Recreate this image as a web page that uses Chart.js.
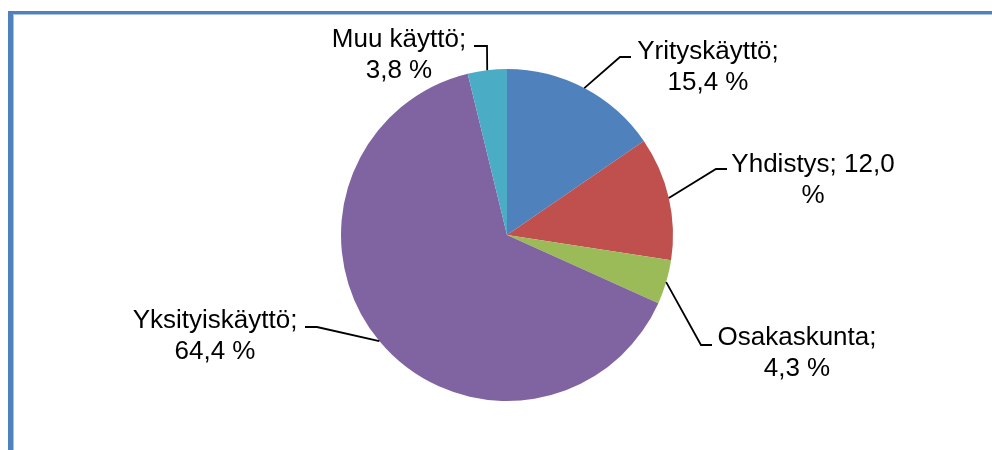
<!DOCTYPE html>
<html>
<head>
<meta charset="utf-8">
<script src="https://cdn.jsdelivr.net/npm/chart.js@4"></script>
<style>
  html, body { margin: 0; padding: 0; background: #fff; }
  .chart-parent { position: relative; width: 992px; height: 450px; overflow: hidden; }
  .frame {
    position: absolute; left: 8px; top: 11px; right: -20px; bottom: -20px;
    border-left: 5px solid #4F81BD; border-top: 3px solid #4F81BD;
  }
  .frame-inner {
    position: absolute; left: 0; top: 0; right: 0; bottom: 0;
    border-left: 1px solid #A9C1E1; border-top: 1px solid #A9C1E1;
  }
  canvas { position: absolute; left: 0; top: 0; }
</style>
</head>
<body>
<div class="chart-parent">
  <div class="frame"><div class="frame-inner"></div></div>
  <canvas id="myChart" width="992" height="450"></canvas>
</div>
<script>
const categories = ['Yrityskäyttö', 'Yhdistys', 'Osakaskunta', 'Yksityiskäyttö', 'Muu käyttö'];
const shares = [15.4, 12.0, 4.3, 64.4, 3.8];
const sliceColors = ['#4F81BD', '#C0504D', '#9BBB59', '#8064A2', '#4BACC6'];

// where each label sits (elbow of the leader, end of leader, text centre, first baseline)
const labelLayout = [
  { elbow: [620, 57], end: [631, 57], cx: 708, base: 59 },
  { elbow: [716, 169], end: [727, 169], cx: 813, base: 172 },
  { elbow: [701, 345], end: [712, 345], cx: 797, base: 345 },
  { elbow: [317, 327], end: [305, 327], cx: 215, base: 328 },
  { elbow: [487, 46], end: [474, 46], cx: 399, base: 47 },
];

const FONT = '26px "Liberation Sans", Arial, sans-serif';
const LINE = 30.5;
const WRAP = 170;

function wrapText(ctx, text) {
  const words = text.split(' ');
  const lines = [];
  let cur = '';
  words.forEach(w => {
    const test = cur ? cur + ' ' + w : w;
    if (cur && ctx.measureText(test).width > WRAP) {
      lines.push(cur);
      cur = w;
    } else {
      cur = test;
    }
  });
  if (cur) lines.push(cur);
  return lines;
}

const pieLabels = {
  id: 'pieLabels',
  afterDatasetsDraw(chart) {
    const { ctx } = chart;
    const meta = chart.getDatasetMeta(0);
    ctx.save();
    ctx.font = FONT;
    ctx.fillStyle = '#000';
    ctx.textAlign = 'center';
    ctx.textBaseline = 'alphabetic';
    meta.data.forEach((arc, i) => {
      const lay = labelLayout[i];
      const mid = (arc.startAngle + arc.endAngle) / 2;
      const sx = arc.x + Math.cos(mid) * arc.outerRadius;
      const sy = arc.y + Math.sin(mid) * arc.outerRadius;
      ctx.beginPath();
      ctx.strokeStyle = '#000';
      ctx.lineWidth = 1.8;
      ctx.moveTo(sx, sy);
      ctx.lineTo(lay.elbow[0], lay.elbow[1]);
      ctx.lineTo(lay.end[0], lay.end[1]);
      ctx.stroke();

      const txt = categories[i] + '; ' + shares[i].toFixed(1).replace('.', ',') + ' %';
      wrapText(ctx, txt).forEach((ln, k) => {
        ctx.fillText(ln, lay.cx, lay.base + k * LINE);
      });
    });
    ctx.restore();
  }
};

const ctx = document.getElementById('myChart');
const myChart = new Chart(ctx, {
  type: 'pie',
  data: {
    labels: categories,
    datasets: [
      {
        data: shares,
        backgroundColor: sliceColors,
        borderWidth: 0,
      },
    ],
  },
  options: {
    responsive: false,
    animation: false,
    layout: {
      padding: { left: 341, right: 319, top: 69, bottom: 49 },
    },
    plugins: {
      legend: { display: false },
      tooltip: { enabled: false },
    },
  },
  plugins: [pieLabels],
});
</script>
</body>
</html>
